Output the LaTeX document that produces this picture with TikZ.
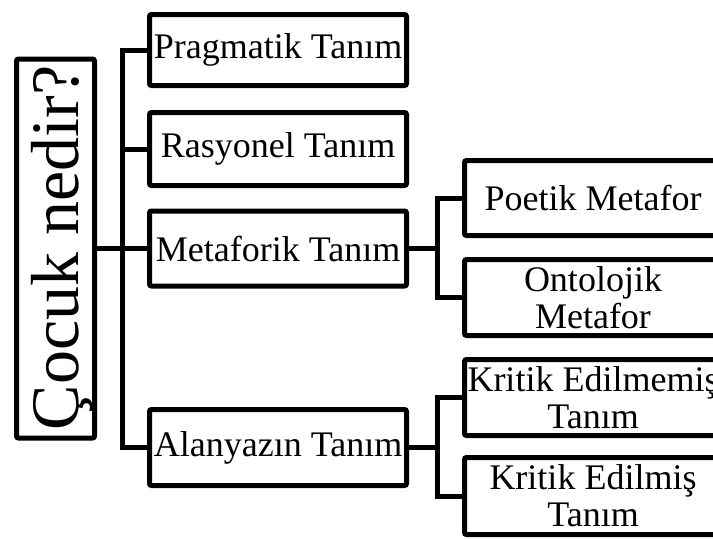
\documentclass[tikz,border=0pt]{standalone}
\usepackage{fontspec}
\setmainfont{Liberation Serif}
\begin{document}
\begin{tikzpicture}[x=1pt,y=-1pt,line width=5pt,
  box/.style={draw, rounded corners=2pt, inner sep=0pt, minimum width=257pt,
    minimum height=75pt, align=center, font=\fontsize{36}{37}\selectfont},
  rootbox/.style={draw, rounded corners=2pt, inner sep=0pt, minimum width=78pt, minimum height=379pt},
  conn/.style={line width=5pt, line join=miter}]
\path[use as bounding box] (0,0) rectangle (713,539);
\clip (0,0) rectangle (713,539);
% root
\node[rootbox] (root) at (55.5,248.5) {};
\node[rotate=90, anchor=base, inner sep=0pt, font=\fontsize{68}{70}\selectfont] (rootlabel) at (78,248) {Çocuk nedir?};
% first level
\node[box, minimum height=71pt] (prag) at (278,50) {Pragmatik Tanım};
\node[box, minimum height=73pt] (ras) at (278,149) {Rasyonel Tanım};
\node[box] (met) at (278,248.5) {Metaforik Tanım};
\node[box, minimum height=76pt] (alan) at (278,447.5) {Alanyazın Tanım};
% second level
\node[box, minimum height=75pt] (poe) at (593,198) {Poetik Metafor};
\node[box, minimum height=76pt] (ont) at (593,297.5) {Ontolojik\\Metafor};
\node[box, minimum height=76pt] (ke) at (593,397.5) {Kritik Edilmemiş\\Tanım};
\node[box, minimum height=77pt] (ked) at (593,496) {Kritik Edilmiş\\Tanım};
% connectors
\coordinate (t) at ([xshift=25pt]root.east);
\draw[conn] (root.east) -- (met.west);
\draw[conn] (prag.west) -| (t);
\draw[conn] (ras.west) -| (t);
\draw[conn] (alan.west) -| (t);
\coordinate (s1) at ([xshift=28pt]met.east);
\draw[conn] (met.east) -- (s1);
\draw[conn] (poe.west) -| (s1);
\draw[conn] (ont.west) -| (s1);
\coordinate (s2) at ([xshift=28pt]alan.east);
\draw[conn] (alan.east) -- (s2);
\draw[conn] (ke.west) -| (s2);
\draw[conn] (ked.west) -| (s2);
\end{tikzpicture}
\end{document}
